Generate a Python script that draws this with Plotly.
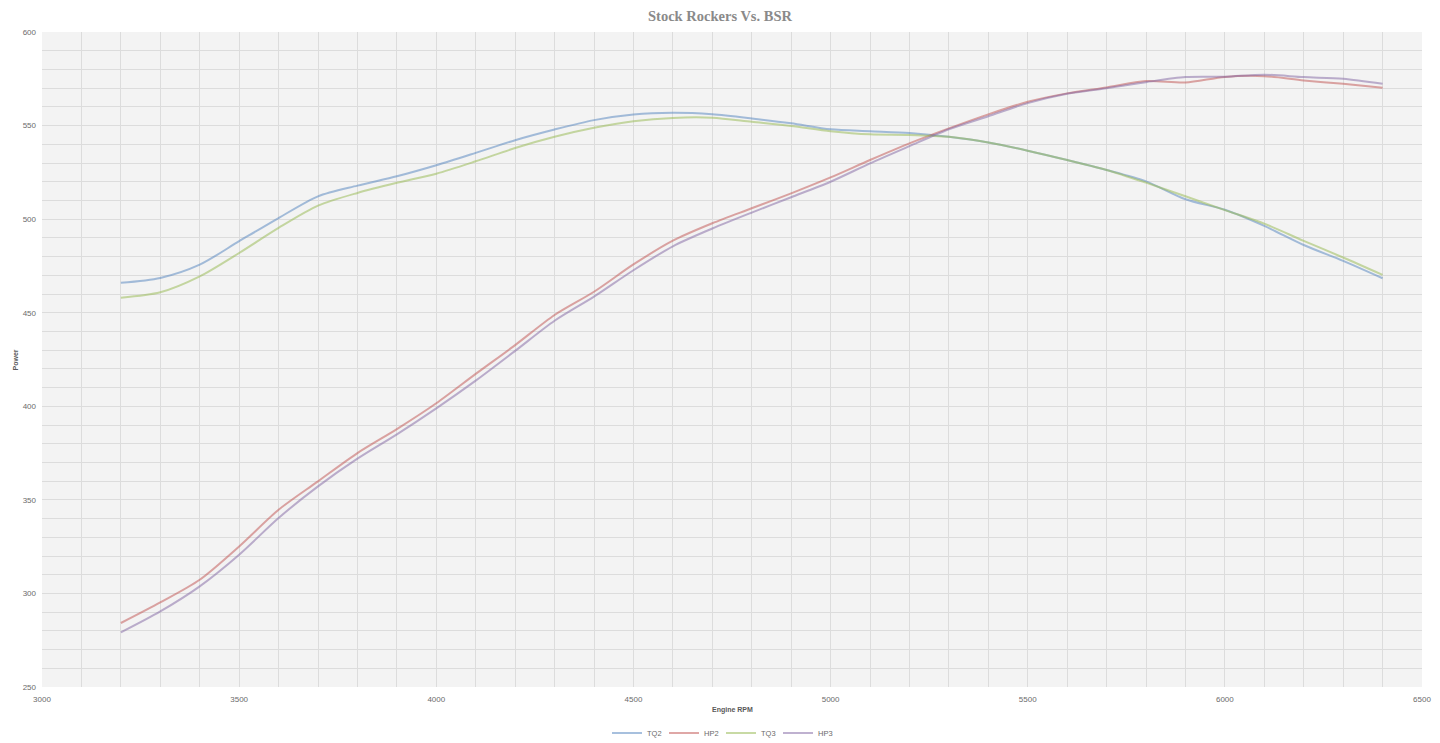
import plotly.graph_objects as go

rpm = [3200, 3300, 3400, 3500, 3600, 3700, 3800, 3900, 4000, 4100, 4200, 4300, 4400, 4500, 4600, 4700,
       4800, 4900, 5000, 5100, 5200, 5300, 5400, 5500, 5600, 5700, 5800, 5900, 6000, 6100, 6200, 6300, 6400]

tq2 = [466, 468.6, 475.7, 488.2, 500.6, 512.2, 517.9, 522.9, 528.8, 535.4, 542.2, 547.9, 552.9, 555.9, 556.8, 556,
       553.8, 551.2, 548, 547, 546, 544, 541, 536.6, 531.6, 526.3, 520.2, 510.6, 505, 496.4, 486.2, 477.7, 468.4]
hp2 = [284.2, 295.2, 307.3, 325.1, 344.7, 359.9, 375, 387.8, 401.6, 417.3, 432.7, 448.8, 461.2, 475.8, 488.5, 497.8,
       505.8, 513.8, 522.3, 531.6, 540.5, 548.5, 556, 562.7, 567.2, 570.4, 573.8, 573, 576, 576.4, 574.1, 572.3, 570.2]
tq3 = [458, 460.9, 469.4, 481.9, 495.3, 507.2, 514, 519.4, 524.3, 530.9, 538, 544, 548.8, 552.3, 554.1, 554.2,
       552, 549.8, 547, 545.3, 545, 544, 541, 536.6, 531.6, 526.3, 519.5, 512.2, 504.8, 497.6, 488.4, 479.5, 470.2]
hp3 = [279.2, 290.4, 303.8, 320.7, 340.3, 357.2, 372, 385, 398.9, 413.7, 429.6, 445.7, 458.6, 472.7, 485.5, 495,
       503.5, 511.7, 520, 529.8, 539, 548, 555, 562, 567, 570, 573.2, 575.9, 576.1, 577.2, 575.9, 575, 572.3]

series = [
    ("TQ2", tq2, "rgba(79,129,189,0.5)"),
    ("HP2", hp2, "rgba(192,80,77,0.5)"),
    ("TQ3", tq3, "rgba(155,187,89,0.55)"),
    ("HP3", hp3, "rgba(128,100,162,0.5)"),
]

fig = go.Figure()
for name, vals, color in series:
    fig.add_trace(go.Scatter(
        x=rpm, y=vals, name=name, mode="lines",
        line=dict(color=color, width=2, shape="spline", smoothing=0.8),
    ))

grid = "#dcdcdc"
sans = "Liberation Sans, Arial, sans-serif"
tickfont = dict(family=sans, size=8, color="#6b6b6b")
titlefont = dict(family=sans, size=7, color="#595959")

# page body has an 8px default margin: compensate so the plot area lands on 42..1422 x 32..687
fig.update_layout(
    width=1440, height=743,
    margin=dict(l=34, r=26, t=24, b=64, autoexpand=False),
    paper_bgcolor="white",
    plot_bgcolor="#f3f3f3",
    title=dict(text="<b>Stock Rockers Vs. BSR</b>", x=(720 - 8) / 1440, xanchor="center",
               yref="container", y=1 - 8 / 743, yanchor="middle",
               font=dict(family="Liberation Serif, DejaVu Serif, serif", size=14.5, color="#8a8a8a")),
    showlegend=True,
    legend=dict(orientation="h", xref="container", x=(721 - 8) / 1440, xanchor="center",
                y=-46 / 655, yanchor="middle",
                font=dict(family=sans, size=7.5, color="#6b6b6b"),
                bgcolor="rgba(0,0,0,0)", entrywidth=12, tracegroupgap=0),
    xaxis=dict(range=[3000, 6500], dtick=500, tick0=3000, showgrid=True, gridcolor=grid, gridwidth=1,
               zeroline=False, showline=False, ticks="", tickfont=tickfont, automargin=False,
               ticklabelstandoff=6,
               minor=dict(dtick=100, showgrid=True, gridcolor=grid, gridwidth=1)),
    yaxis=dict(range=[250, 600], dtick=50, tick0=250, showgrid=True, gridcolor=grid, gridwidth=1,
               zeroline=False, showline=False, ticks="", tickfont=tickfont, automargin=False,
               ticklabelstandoff=5,
               minor=dict(dtick=10, showgrid=True, gridcolor=grid, gridwidth=1)),
    annotations=[
        dict(text="<b>Engine RPM</b>", xref="paper", yref="paper", x=0.5, y=-23 / 655,
             xanchor="center", yanchor="middle", showarrow=False, font=titlefont),
        dict(text="<b>Power</b>", xref="paper", yref="paper", x=-27 / 1380, y=0.5, textangle=-90,
             xanchor="center", yanchor="middle", showarrow=False, font=titlefont),
    ],
)

fig.write_html("out.html")
